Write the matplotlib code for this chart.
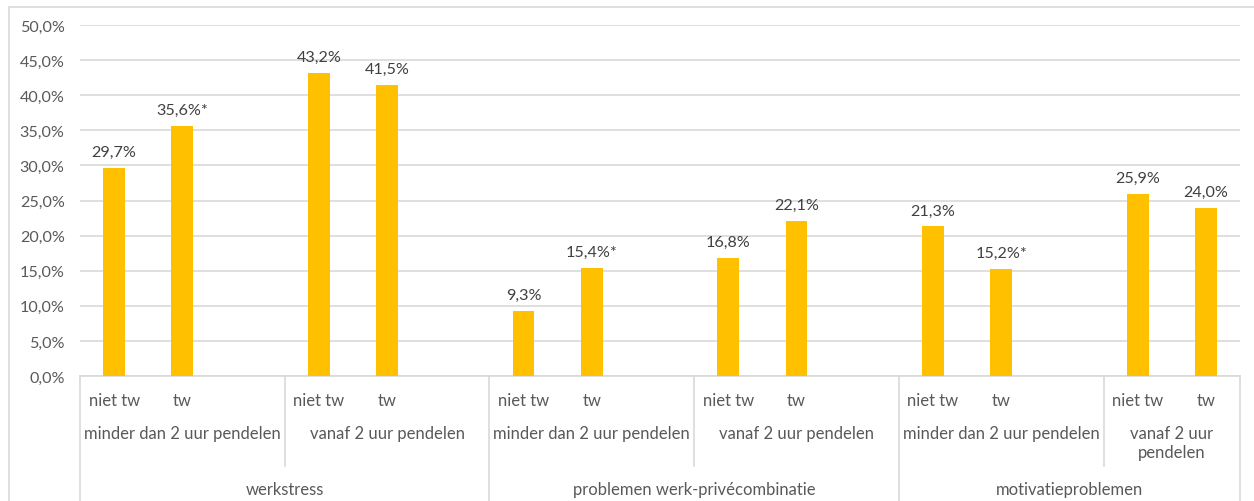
import matplotlib.pyplot as plt
from matplotlib.lines import Line2D
from matplotlib.patches import Rectangle

# waarden per balk (percentages) en of het verschil significant is
groepen = ['werkstress', 'problemen werk-privécombinatie', 'motivatieproblemen']
pendel = ['minder dan 2 uur pendelen', 'vanaf 2 uur pendelen']
telewerk = ['niet tw', 'tw']
waarden = [29.7, 35.6, 43.2, 41.5, 9.3, 15.4, 16.8, 22.1, 21.3, 15.2, 25.9, 24.0]
significant = [False, True, False, False, False, True, False, False, False, True, False, False]

GEEL = '#FFC000'
GRIJS = '#595959'
LIJN = '#D9D9D9'

plt.rcParams['font.family'] = ['Lato', 'DejaVu Sans']

W, H = 1254, 502
fig = plt.figure(figsize=(W / 100, H / 100), dpi=100)
ax_l, ax_r, ax_t, ax_b = 80, 1240, 26, 377
ax = fig.add_axes([ax_l / W, 1 - ax_b / H, (ax_r - ax_l) / W, (ax_b - ax_t) / H])

# rand om het hele diagram
fig.add_artist(Rectangle((9 / W, -0.1), 1.2, 1.1 - 8 / H, transform=fig.transFigure,
                         fill=False, edgecolor=LIJN, lw=1.2))

# posities: twee balken per subgroep, lege plek ertussen
posities = []
for s in range(len(groepen) * len(pendel)):
    posities += [3 * s, 3 * s + 1]
n_slots = posities[-1] + 1

ax.bar(posities, waarden, width=0.32, color=GEEL, zorder=3)
for x, v, sig in zip(posities, waarden, significant):
    tekst = f'{v:.1f}'.replace('.', ',') + '%' + ('*' if sig else '')
    ax.annotate(tekst, (x, v), xytext=(0, 6.5), textcoords='offset points',
                ha='center', va='bottom', fontsize=11.6, color='#404040')

ax.set_xlim(-0.5, n_slots - 0.5)
ax.set_ylim(0, 50)
ax.set_yticks(range(0, 51, 5))
ax.set_yticklabels([f'{t:.1f}'.replace('.', ',') + '%' for t in range(0, 51, 5)])
ax.tick_params(axis='y', length=0, labelsize=11.6, labelcolor=GRIJS, pad=11)
ax.set_xticks([])
ax.grid(axis='y', color=LIJN, lw=1.2, zorder=0)
for kant in ['left', 'right', 'top']:
    ax.spines[kant].set_visible(False)
ax.spines['bottom'].set_color(LIJN)
ax.spines['bottom'].set_linewidth(1.2)

trans = ax.get_xaxis_transform()
hoogte = ax_b - ax_t


def ypix(y):
    # pixelhoogte in de figuur omrekenen naar assenfractie
    return (ax_b - y) / hoogte


def lijn(x, y_onder):
    ax.add_line(Line2D([x, x], [0, ypix(y_onder)], transform=trans, color=LIJN,
                       lw=1.2, clip_on=False))


# onderste niveau: niet tw / tw
for i, x in enumerate(posities):
    ax.text(x, ypix(401), telewerk[i % 2], transform=trans, ha='center', va='center',
            fontsize=12, color=GRIJS)

# tweede niveau: pendeltijd
for s in range(len(groepen) * len(pendel)):
    start = 3 * s - 0.5
    eind = min(3 * s + 2.5, n_slots - 0.5)
    label = pendel[s % 2]
    if eind - start < 3:
        label = 'vanaf 2 uur\npendelen'
    ax.text((start + eind) / 2, ypix(426), label, transform=trans, ha='center', va='top',
            fontsize=12, color=GRIJS, linespacing=1.2)
    if s % 2 == 1:
        lijn(start, 467)

# bovenste niveau: indicator
for g, naam in enumerate(groepen):
    start = 6 * g - 0.5
    eind = min(6 * g + 5.5, n_slots - 0.5)
    ax.text((start + eind) / 2, ypix(490), naam, transform=trans, ha='center', va='center',
            fontsize=12, color=GRIJS)
    lijn(start, 520)
lijn(n_slots - 0.5, 520)

fig.savefig('out.png', dpi=100)
